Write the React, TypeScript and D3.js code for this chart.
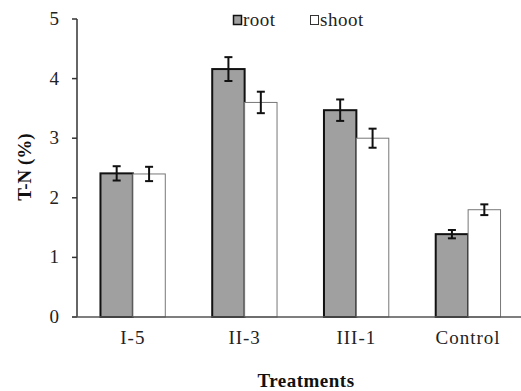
import React from "react";
import * as d3 from "d3";

const treatments = ["I-5", "II-3", "III-1", "Control"];
const seriesNames = ["root", "shoot"];
const rootValues = [2.41, 4.16, 3.47, 1.39];
const shootValues = [2.4, 3.6, 3.0, 1.8];
const rootErrors = [0.12, 0.2, 0.18, 0.07];
const shootErrors = [0.12, 0.18, 0.16, 0.09];
const yTicks = [0, 1, 2, 3, 4, 5];

const size = { width: 521, height: 391 };
const plot = { left: 77, right: 524, top: 19, bottom: 317 };
const font = "Liberation Serif, Times New Roman, serif";

const colors: Record<string, { fill: string; stroke: string; sw: number }> = {
  root: { fill: "#a0a0a0", stroke: "#111", sw: 2 },
  shoot: { fill: "#ffffff", stroke: "#777", sw: 1 },
};

const txt = { fontFamily: font };

export default function App() {
  const x = d3
    .scaleBand()
    .domain(treatments)
    .range([plot.left, plot.right])
    .paddingInner(0.42)
    .paddingOuter(0.21);

  const xs = d3.scaleBand().domain(seriesNames).range([0, x.bandwidth()]);

  const y = d3.scaleLinear().domain([0, 5]).range([plot.bottom, plot.top]);

  const series = [
    { name: "root", values: rootValues, errors: rootErrors },
    { name: "shoot", values: shootValues, errors: shootErrors },
  ];

  const bars = series.map((s) =>
    treatments.map((t, i) => {
      const c = colors[s.name];
      const bx = (x(t) as number) + (xs(s.name) as number);
      const bw = xs.bandwidth();
      return (
        <rect
          key={`bar-${s.name}-${i}`}
          x={bx}
          y={y(s.values[i])}
          width={bw}
          height={y(0) - y(s.values[i])}
          fill={c.fill}
          stroke={c.stroke}
          strokeWidth={c.sw}
        />
      );
    })
  );

  const errs = series.map((s) =>
    treatments.map((t, i) => {
      const cx = (x(t) as number) + (xs(s.name) as number) + xs.bandwidth() / 2;
      const hi = y(s.values[i] + s.errors[i]);
      const lo = y(s.values[i] - s.errors[i]);
      return (
        <g key={`err-${s.name}-${i}`} stroke="#111" strokeWidth={2}>
          <line x1={cx} x2={cx} y1={hi} y2={lo} />
          <line x1={cx - 4} x2={cx + 4} y1={hi} y2={hi} />
          <line x1={cx - 4} x2={cx + 4} y1={lo} y2={lo} />
        </g>
      );
    })
  );

  return (
    <svg
      width={size.width}
      height={size.height}
      style={{ position: "absolute", left: 0, top: 0, background: "#fff", fontFamily: font }}
    >
      {/* y axis */}
      <line x1={plot.left} x2={plot.left} y1={plot.top} y2={plot.bottom} stroke="#333" strokeWidth={1.5} />
      {yTicks.map((t) => (
        <g key={`yt${t}`}>
          <line x1={plot.left - 5} x2={plot.left} y1={y(t)} y2={y(t)} stroke="#333" strokeWidth={1.5} />
          <text x={59} y={y(t) + 6} fontSize={19} textAnchor="end" fill="#222" style={txt}>
            {t}
          </text>
        </g>
      ))}

      {bars}
      {errs}

      {/* x axis */}
      <line x1={plot.left - 5} x2={size.width} y1={plot.bottom} y2={plot.bottom} stroke="#555" strokeWidth={1.5} />
      {treatments.map((t) => (
        <text
          key={`xl${t}`}
          x={(x(t) as number) + x.bandwidth() / 2}
          y={344}
          fontSize={19}
          letterSpacing={1}
          textAnchor="middle"
          fill="#222"
          style={txt}
        >
          {t}
        </text>
      ))}

      <text x={306} y={387} fontSize={19} fontWeight="bold" letterSpacing={0.5} textAnchor="middle" fill="#111" style={txt}>
        Treatments
      </text>
      <text
        transform={`translate(31,167) rotate(-90)`}
        fontSize={19}
        fontWeight="bold"
        textAnchor="middle"
        fill="#111"
        style={txt}
      >
        T-N (%)
      </text>

      {/* legend */}
      <rect x={233.5} y={15.5} width={8} height={9} fill={colors.root.fill} stroke="#111" strokeWidth={1.5} />
      <text x={243} y={26} fontSize={19} letterSpacing={0.5} fill="#222" style={txt}>
        root
      </text>
      <rect x={310.5} y={15.5} width={8} height={9} fill="#fff" stroke="#333" strokeWidth={1} />
      <text x={320} y={26} fontSize={19} letterSpacing={0.5} fill="#222" style={txt}>
        shoot
      </text>
    </svg>
  );
}
